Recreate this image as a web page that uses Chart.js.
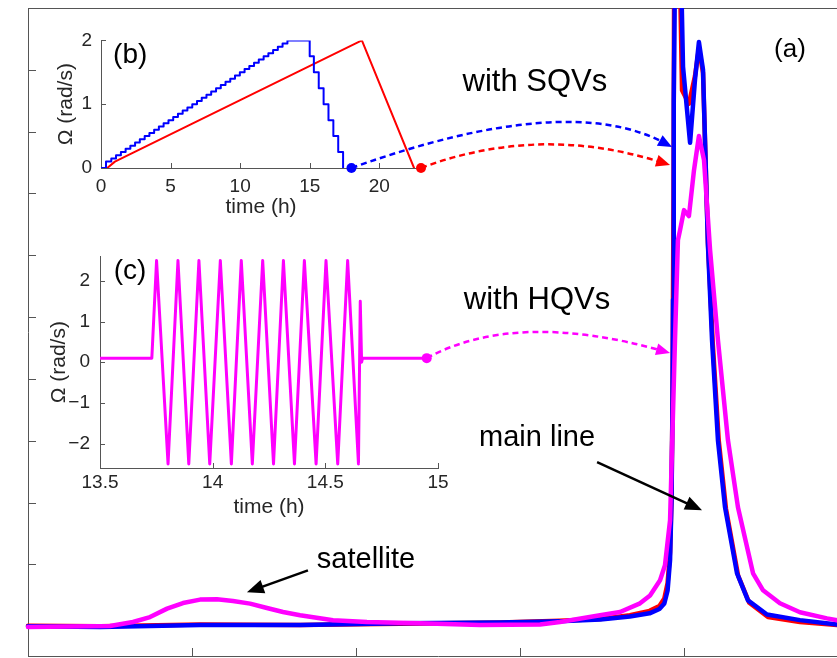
<!DOCTYPE html>
<html>
<head>
<meta charset="utf-8">
<script src="https://cdn.jsdelivr.net/npm/chart.js@4.4.0/dist/chart.umd.min.js"></script>
<style>
  html, body { margin: 0; padding: 0; background: #fff; }
  #wrap { position: relative; width: 837px; height: 658px; overflow: hidden; }
  canvas { position: absolute; }
  #overlay { pointer-events: none; }
</style>
</head>
<body>
<div id="wrap">
  <canvas id="mainChart" width="850" height="658"></canvas>
  <canvas id="insetB" width="400" height="210"></canvas>
  <canvas id="insetC" width="420" height="290"></canvas>
  <canvas id="overlay" width="837" height="658"></canvas>
</div>
<script>
// ---- panel (a): traces, in tick units (the axes carry no labels) ----
const mainTicksX = [1, 2, 3, 4];
const mainTicksY = [0, 1, 2, 3, 4, 5, 6, 7, 8, 9];

const redX = [0, 0.44, 1.05, 1.66, 2.27, 2.88, 3.24, 3.49, 3.67, 3.79, 3.85, 3.88, 3.90, 3.915, 3.924, 3.930, 3.936, 3.940, 3.975, 3.988, 4.03, 4.067, 4.091, 4.116, 4.146, 4.175, 4.212, 4.256, 4.330, 4.398, 4.512, 4.707, 4.933, 5.0];
const redY = [0.01, 0, 0.03, 0.02, 0.04, 0.06, 0.09, 0.12, 0.18, 0.25, 0.33, 0.45, 0.70, 1.20, 2.10, 3.70, 7.0, 10.6, 10.6, 8.67, 8.45, 8.9, 9.35, 8.95, 6.2, 4.6, 3.0, 1.9, 0.82, 0.38, 0.15, 0.07, 0.02, 0.02];

const blueX = [0, 0.44, 1.05, 1.66, 2.27, 2.88, 3.24, 3.49, 3.67, 3.79, 3.85, 3.88, 3.90, 3.915, 3.924, 3.930, 3.933, 3.936, 3.939, 3.945, 3.982, 3.994, 4.037, 4.067, 4.091, 4.116, 4.146, 4.171, 4.207, 4.250, 4.323, 4.390, 4.506, 4.707, 4.933, 5.0];
const blueY = [0, -0.01, 0.02, 0.02, 0.05, 0.06, 0.08, 0.11, 0.16, 0.21, 0.28, 0.37, 0.58, 1.07, 2.04, 3.66, 5.28, 6.89, 8.51, 10.6, 10.6, 9.05, 7.82, 8.84, 9.45, 9.0, 6.17, 4.63, 3.01, 1.93, 0.86, 0.42, 0.19, 0.10, 0.03, 0.02];

const magentaX = [0, 0.5, 0.64, 0.744, 0.848, 0.945, 1.049, 1.152, 1.25, 1.354, 1.457, 1.555, 1.659, 1.86, 2.067, 2.39, 2.756, 3.122, 3.244, 3.488, 3.61, 3.732, 3.793, 3.854, 3.884, 3.915, 3.945, 3.963, 3.976, 4.0, 4.03, 4.061, 4.091, 4.122, 4.159, 4.207, 4.268, 4.329, 4.421, 4.482, 4.585, 4.707, 4.872, 4.933, 5.0];
const magentaY = [-0.01, 0.005, 0.07, 0.15, 0.286, 0.377, 0.432, 0.437, 0.409, 0.367, 0.296, 0.231, 0.178, 0.097, 0.07, 0.05, 0.02, 0.03, 0.07, 0.178, 0.231, 0.372, 0.50, 0.744, 0.987, 1.715, 4.628, 6.246, 6.408, 6.731, 6.634, 7.379, 7.929, 7.54, 6.084, 4.628, 3.01, 1.926, 0.858, 0.583, 0.372, 0.227, 0.129, 0.097, 0.09];

// ---- inset (b): rotation ramps, time (h) vs Omega (rad/s) ----
const bTicksX = [0, 5, 10, 15, 20];
const bTicksY = [0, 1, 2];
const bBlueT = [0, 0.36, 0.74, 1.08, 1.43, 1.77, 2.11, 2.45, 2.79, 3.14, 3.48, 3.82, 4.16, 4.50, 4.85, 5.19, 5.53, 5.87, 6.21, 6.56, 6.90, 7.24, 7.58, 7.92, 8.27, 8.61, 8.95, 9.29, 9.63, 9.98, 10.32, 10.66, 11.00, 11.34, 11.69, 12.03, 12.37, 12.71, 13.05, 13.40, 15.0, 15.3, 15.65, 16.0, 16.35, 16.7, 17.05, 17.4];
const bBlueW = [0, 0.10, 0.15, 0.20, 0.25, 0.30, 0.35, 0.40, 0.45, 0.50, 0.55, 0.60, 0.65, 0.70, 0.75, 0.80, 0.85, 0.90, 0.95, 1.00, 1.05, 1.10, 1.15, 1.20, 1.25, 1.30, 1.35, 1.40, 1.45, 1.50, 1.55, 1.60, 1.65, 1.70, 1.75, 1.80, 1.85, 1.90, 1.95, 2.00, 1.75, 1.5, 1.25, 1.0, 0.75, 0.5, 0.25, 0];
const bRedT = [0, 0.45, 1.0, 18.75, 22.5];
const bRedW = [0, 0, 0.1, 2.0, 0];
const bBlueEnd = [18, 0];
const bRedEnd = [23, 0];

// ---- inset (c): oscillating rotation ----
const cTicksX = [13.5, 14, 14.5, 15];
const cTicksY = [-2, -1, 0, 1, 2];
const cT = [13.5, 13.73, 13.751, 13.802, 13.846, 13.894, 13.939, 13.987, 14.034, 14.083, 14.127, 14.176, 14.222, 14.270, 14.314, 14.363, 14.407, 14.459, 14.503, 14.555, 14.599, 14.647, 14.655, 14.661, 14.665, 14.95];
const cW = [0.1, 0.1, 2.5, -2.5, 2.5, -2.5, 2.5, -2.5, 2.5, -2.5, 2.5, -2.5, 2.5, -2.5, 2.5, -2.5, 2.5, -2.5, 2.5, -2.5, 2.5, -2.5, 1.5, 0.0, 0.1, 0.1];
const cEnd = [14.95, 0.1];

const RED = '#ff0000', BLUE = '#0000ff', MAGENTA = '#ff00ff';
const AXIS = '#555', TEXT = '#262626';
const FONT = '"Liberation Sans", Arial, Helvetica, sans-serif';
Chart.defaults.font.family = FONT;

const frames = {
  main: { left: 0, top: 0 },
  b: { left: 40, top: 20 },
  c: { left: 40, top: 235 },
};
for (const [id, f] of [['insetB', frames.b], ['insetC', frames.c], ['mainChart', frames.main], ['overlay', frames.main]]) {
  const el = document.getElementById(id);
  el.style.left = f.left + 'px';
  el.style.top = f.top + 'px';
}

const xy = (xs, ys) => xs.map((x, i) => ({ x, y: ys[i] }));

// MATLAB style ticks pointing into the plot
const inwardTicks = {
  id: 'inwardTicks',
  beforeDatasetsDraw(chart, args, opts) {
    const { ctx, chartArea: a, scales: { x, y } } = chart;
    ctx.save();
    ctx.strokeStyle = AXIS;
    ctx.lineWidth = 1;
    ctx.beginPath();
    for (const t of x.ticks) {
      const px = Math.round(x.getPixelForValue(t.value)) + 0.5;
      ctx.moveTo(px, a.bottom);
      ctx.lineTo(px, a.bottom - opts.len);
    }
    for (const t of y.ticks) {
      const py = Math.round(y.getPixelForValue(t.value)) + 0.5;
      ctx.moveTo(a.left, py);
      ctx.lineTo(a.left + opts.len, py);
    }
    if (opts.topBorder) {
      ctx.moveTo(a.left, a.top + 0.5);
      ctx.lineTo(a.right, a.top + 0.5);
    }
    ctx.stroke();
    ctx.restore();
  },
  afterDraw(chart, args, opts) {
    if (!opts.tag) return;
    const { ctx, scales: { x, y } } = chart;
    ctx.save();
    ctx.fillStyle = '#000';
    ctx.font = '28px ' + FONT;
    ctx.textAlign = 'center';
    ctx.textBaseline = 'middle';
    ctx.fillText(opts.tag.text, x.getPixelForValue(opts.tag.x), y.getPixelForValue(opts.tag.y));
    ctx.restore();
  }
};

const setTicks = (arr) => (s) => { s.ticks = arr.map(v => ({ value: v })); };
const lineSet = (data, color, width, extra) => Object.assign({
  data, borderColor: color, backgroundColor: color, borderWidth: width,
  pointRadius: 0, tension: 0, borderJoinStyle: 'round', borderCapStyle: 'round'
}, extra || {});
const dotSet = (pt, color) => ({
  data: [{ x: pt[0], y: pt[1] }], showLine: false, pointRadius: 5, pointBorderWidth: 0,
  pointBackgroundColor: color, borderColor: color, clip: false
});
const baseOpts = {
  responsive: false, animation: false, events: [],
  plugins: { legend: { display: false }, tooltip: { enabled: false } }
};
const tickFont = { size: 19, family: FONT };
const titleFont = { size: 21, family: FONT };
const numFmt = v => (v < 0 ? '\u2212' + Math.abs(v) : String(v));

// ---- main chart (first dataset is drawn on top) ----
const mainClip = { left: 5, top: 0, right: 5, bottom: 5 };
const mainChart = new Chart(document.getElementById('mainChart'), {
  type: 'line',
  data: {
    datasets: [
      lineSet(xy(magentaX, magentaY), MAGENTA, 4.5, { clip: mainClip }),
      lineSet(xy(blueX, blueY), BLUE, 4.5, { clip: mainClip }),
      lineSet(xy(redX, redY), RED, 4.5, { clip: mainClip }),
    ]
  },
  options: Object.assign({}, baseOpts, {
    layout: { padding: { left: 28, top: 8, right: 2, bottom: 2 } },
    plugins: Object.assign({}, baseOpts.plugins, { inwardTicks: { len: 8, topBorder: true } }),
    scales: {
      x: {
        type: 'linear', min: 0, max: 5,
        afterBuildTicks: setTicks(mainTicksX),
        ticks: { display: false }, grid: { display: false, drawTicks: false },
        border: { display: true, color: AXIS, width: 1 },
        afterFit: s => { s.height = 0; }
      },
      y: {
        type: 'linear', min: -0.48, max: 10,
        afterBuildTicks: setTicks(mainTicksY),
        ticks: { display: false }, grid: { display: false, drawTicks: false },
        border: { display: true, color: AXIS, width: 1 },
        afterFit: s => { s.width = 0; }
      }
    }
  }),
  plugins: [inwardTicks]
});

// ---- inset (b) ----
const insetB = new Chart(document.getElementById('insetB'), {
  type: 'line',
  data: {
    datasets: [
      dotSet(bBlueEnd, BLUE),
      dotSet(bRedEnd, RED),
      lineSet(xy(bBlueT, bBlueW), BLUE, 2, { stepped: true }),
      lineSet(xy(bRedT, bRedW), RED, 2),
    ]
  },
  options: Object.assign({}, baseOpts, {
    layout: { padding: { left: 0, top: 15, right: 19, bottom: 0 } },
    plugins: Object.assign({}, baseOpts.plugins, { inwardTicks: { len: 5, tag: { text: '(b)', x: 2.1, y: 1.76 } } }),
    scales: {
      x: {
        type: 'linear', min: 0, max: 23,
        afterBuildTicks: setTicks(bTicksX),
        ticks: { font: tickFont, color: TEXT, padding: 7, autoSkip: false, maxRotation: 0, callback: numFmt },
        title: { display: true, text: 'time (h)', font: titleFont, color: TEXT, padding: { top: 0, bottom: 10 } },
        grid: { display: false, drawTicks: false },
        border: { display: true, color: AXIS, width: 1 },
        afterFit: s => { s.height = 62; }
      },
      y: {
        type: 'linear', min: 0, max: 2,
        afterBuildTicks: setTicks(bTicksY),
        ticks: { font: tickFont, color: TEXT, padding: 9, autoSkip: false, callback: numFmt },
        title: { display: true, text: 'Ω (rad/s)', font: titleFont, color: TEXT, padding: { top: 14, bottom: 0 } },
        grid: { display: false, drawTicks: false },
        border: { display: true, color: AXIS, width: 1 },
        afterFit: s => { s.width = 61; }
      }
    }
  }),
  plugins: [inwardTicks]
});

// ---- inset (c) ----
const insetC = new Chart(document.getElementById('insetC'), {
  type: 'line',
  data: {
    datasets: [
      dotSet(cEnd, MAGENTA),
      lineSet(xy(cT, cW), MAGENTA, 3),
    ]
  },
  options: Object.assign({}, baseOpts, {
    layout: { padding: { left: 0, top: 15, right: 22, bottom: 0 } },
    plugins: Object.assign({}, baseOpts.plugins, { inwardTicks: { len: 5, tag: { text: '(c)', x: 13.633, y: 2.24 } } }),
    scales: {
      x: {
        type: 'linear', min: 13.5, max: 15,
        afterBuildTicks: setTicks(cTicksX),
        ticks: { font: tickFont, color: TEXT, padding: 3, autoSkip: false, maxRotation: 0, callback: numFmt },
        title: { display: true, text: 'time (h)', font: titleFont, color: TEXT, padding: { top: 0, bottom: 5 } },
        grid: { display: false, drawTicks: false },
        border: { display: true, color: AXIS, width: 1 },
        afterFit: s => { s.height = 57; }
      },
      y: {
        type: 'linear', min: -2.6, max: 2.6,
        afterBuildTicks: setTicks(cTicksY),
        ticks: { font: tickFont, color: TEXT, padding: 10, autoSkip: false, callback: numFmt },
        title: { display: true, text: 'Ω (rad/s)', font: titleFont, color: TEXT, padding: { top: 7, bottom: 0 } },
        grid: { display: false, drawTicks: false },
        border: { display: true, color: AXIS, width: 1 },
        afterFit: s => { s.width = 60; }
      }
    }
  }),
  plugins: [inwardTicks]
});

// ---- annotations: labels and arrows, placed through the charts' scales ----
const notes = [
  { text: '(a)', x: 4.646, y: 9.32, size: 26 },
  { text: 'with SQVs', x: 3.091, y: 8.79, size: 31 },
  { text: 'with HQVs', x: 3.104, y: 5.275, size: 31 },
  { text: 'main line', x: 3.104, y: 3.04, size: 29 },
  { text: 'satellite', x: 2.061, y: 1.068, size: 29 },
];
const pointers = [
  { from: [1.707, 0.906], to: [1.335, 0.55] },
  { from: [3.470, 2.654], to: [4.110, 1.877] },
];
const links = [
  { chart: insetB, frame: frames.b, from: bBlueEnd, to: [3.927, 7.75], bend: [56, -67], color: BLUE },
  { chart: insetB, frame: frames.b, from: bRedEnd, to: [3.915, 7.46], bend: [-6, -43], color: RED },
  { chart: insetC, frame: frames.c, from: cEnd, to: [3.915, 4.42], bend: [-32, -46], color: MAGENTA },
];

function pagePt(chart, frame, p) {
  return [frame.left + chart.scales.x.getPixelForValue(p[0]), frame.top + chart.scales.y.getPixelForValue(p[1])];
}
function arrowHead(ctx, tip, ang, len, half) {
  const c = Math.cos(ang), s = Math.sin(ang);
  ctx.beginPath();
  ctx.moveTo(tip[0], tip[1]);
  ctx.lineTo(tip[0] - len * c - half * s, tip[1] - len * s + half * c);
  ctx.lineTo(tip[0] - len * c + half * s, tip[1] - len * s - half * c);
  ctx.closePath();
  ctx.fill();
}

function drawAnnotations() {
  const ctx = document.getElementById('overlay').getContext('2d');
  ctx.textAlign = 'center';
  ctx.textBaseline = 'middle';
  ctx.fillStyle = '#000';
  for (const n of notes) {
    ctx.font = n.size + 'px ' + FONT;
    const p = pagePt(mainChart, frames.main, [n.x, n.y]);
    ctx.fillText(n.text, p[0], p[1]);
  }
  ctx.strokeStyle = '#000';
  ctx.lineWidth = 2.5;
  for (const a of pointers) {
    const p0 = pagePt(mainChart, frames.main, a.from);
    const p1 = pagePt(mainChart, frames.main, a.to);
    const ang = Math.atan2(p1[1] - p0[1], p1[0] - p0[0]);
    ctx.beginPath();
    ctx.moveTo(p0[0], p0[1]);
    ctx.lineTo(p1[0] - 10 * Math.cos(ang), p1[1] - 10 * Math.sin(ang));
    ctx.stroke();
    arrowHead(ctx, p1, ang, 17, 7);
  }
  for (const l of links) {
    const p0 = pagePt(l.chart, l.frame, l.from);
    const p2 = pagePt(mainChart, frames.main, l.to);
    const p1 = [(p0[0] + p2[0]) / 2 + l.bend[0], (p0[1] + p2[1]) / 2 + l.bend[1]];
    const ang = Math.atan2(p2[1] - p1[1], p2[0] - p1[0]);
    const end = [p2[0] - 8 * Math.cos(ang), p2[1] - 8 * Math.sin(ang)];
    ctx.save();
    ctx.strokeStyle = l.color;
    ctx.fillStyle = l.color;
    ctx.lineWidth = 2.5;
    ctx.setLineDash([6, 4]);
    ctx.beginPath();
    ctx.moveTo(p0[0], p0[1]);
    ctx.quadraticCurveTo(p1[0], p1[1], end[0], end[1]);
    ctx.stroke();
    ctx.setLineDash([]);
    arrowHead(ctx, p2, ang, 14, 6);
    ctx.restore();
  }
}
drawAnnotations();
</script>
</body>
</html>
